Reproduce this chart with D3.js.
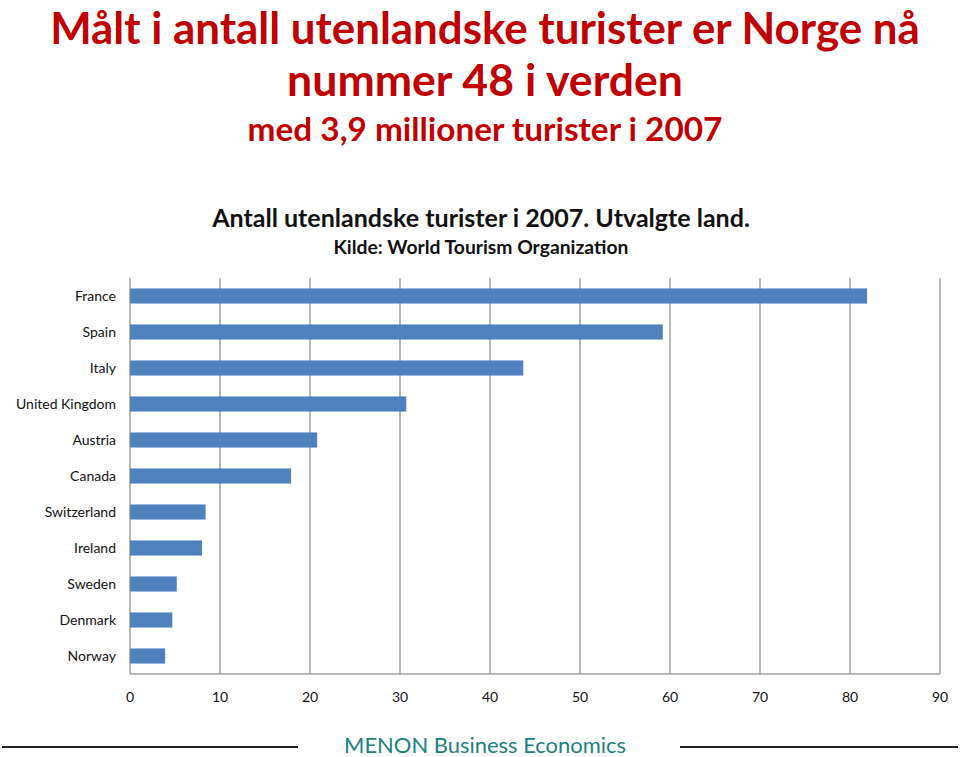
<!DOCTYPE html>
<html><head><meta charset="utf-8">
<script src="https://cdn.jsdelivr.net/npm/d3@7"></script>
<style>body{margin:0;background:#fff}svg{display:block}</style>
</head><body>
<svg id="c" width="960" height="757"></svg>
<script>
const categories = ["France","Spain","Italy","United Kingdom","Austria","Canada","Switzerland","Ireland","Sweden","Denmark","Norway"];
const values = [81.9,59.2,43.7,30.7,20.8,17.9,8.4,8.0,5.2,4.7,3.9];
const xTicks = [0,10,20,30,40,50,60,70,80,90];
const titleLines = ["Målt i antall utenlandske turister er Norge nå","nummer 48 i verden","med 3,9 millioner turister i 2007"];
const chartTitle = "Antall utenlandske turister i 2007. Utvalgte land.";
const chartSubtitle = "Kilde: World Tourism Organization";
const footer = "MENON Business Economics";

const svg = d3.select("#c");
const FONT = "Lato, 'Open Sans', sans-serif";

function fitText(sel, targetW){
  const w = sel.node().getComputedTextLength();
  const fs = parseFloat(sel.attr("font-size"));
  sel.attr("font-size", fs*targetW/w);
}

// Headline
const red = "#C00000";
const hl = [
  {t:titleLines[0], y:44, fs:42, w:870},
  {t:titleLines[1], y:96, fs:42, w:396},
  {t:titleLines[2], y:141, fs:30, w:475}
];
hl.forEach(h=>{
  const s = svg.append("text").attr("x",485).attr("y",h.y).attr("text-anchor","middle")
    .attr("font-family",FONT).attr("font-weight","bold").attr("font-size",h.fs)
    .attr("fill",red).text(h.t);
  fitText(s,h.w);
});

const ct = svg.append("text").attr("x",481).attr("y",227).attr("text-anchor","middle")
  .attr("font-family",FONT).attr("font-weight","bold").attr("font-size",22).attr("fill","#111").text(chartTitle);
fitText(ct,538);
const cs = svg.append("text").attr("x",481).attr("y",254).attr("text-anchor","middle")
  .attr("font-family",FONT).attr("font-weight","bold").attr("font-size",17).attr("fill","#111").text(chartSubtitle);
fitText(cs,295);

// Plot
const x = d3.scaleLinear().domain([0,90]).range([130,940]);
const y = d3.scaleBand().domain(categories).range([278,674]).paddingInner(0.58).paddingOuter(0.29);

const g = svg.append("g");
g.selectAll("line.grid").data(xTicks).join("line").attr("class","grid")
  .attr("x1",d=>x(d)).attr("x2",d=>x(d)).attr("y1",278).attr("y2",674)
  .attr("stroke","#A0A0A0").attr("stroke-width",1.5);
g.append("line").attr("x1",130).attr("x2",940).attr("y1",674).attr("y2",674)
  .attr("stroke","#A0A0A0").attr("stroke-width",1.5);

g.selectAll("rect.bar").data(values).join("rect").attr("class","bar")
  .attr("x",x(0)).attr("y",(d,i)=>y(categories[i]))
  .attr("width",d=>x(d)-x(0)).attr("height",y.bandwidth())
  .attr("fill","#4F81BD");

g.selectAll("text.cat").data(categories).join("text").attr("class","cat")
  .attr("x",116).attr("y",d=>y(d)+y.bandwidth()/2).attr("dy","0.35em")
  .attr("text-anchor","end").attr("font-family",FONT).attr("font-size",14).attr("fill","#111").text(d=>d);

g.selectAll("text.tick").data(xTicks).join("text").attr("class","tick")
  .attr("x",d=>x(d)).attr("y",697).attr("dy","0.35em").attr("text-anchor","middle")
  .attr("font-family",FONT).attr("font-size",14).attr("fill","#111").text(d=>d);

// Footer
svg.append("line").attr("x1",2).attr("x2",298).attr("y1",747).attr("y2",747).attr("stroke","#222").attr("stroke-width",2);
svg.append("line").attr("x1",680).attr("x2",958).attr("y1",747).attr("y2",747).attr("stroke","#222").attr("stroke-width",2);
const ft = svg.append("text").attr("x",485).attr("y",753).attr("text-anchor","middle")
  .attr("font-family",FONT).attr("font-size",21).attr("fill","#1B8080").text(footer);
fitText(ft,282);
</script>
</body></html>
